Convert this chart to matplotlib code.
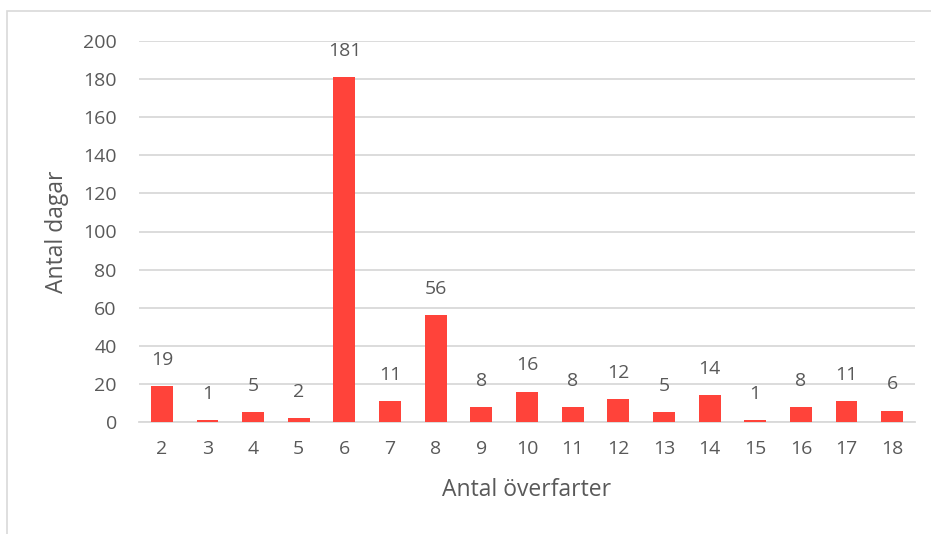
import matplotlib.pyplot as plt
from matplotlib.patches import Rectangle

overfarter = [str(n) for n in range(2, 19)]
dagar = [19, 1, 5, 2, 181, 11, 56, 8, 16, 8, 12, 5, 14, 1, 8, 11, 6]
yticks = list(range(0, 201, 20))

plt.rcParams['font.family'] = ['Open Sans', 'DejaVu Sans']
grey = '#595959'

fig = plt.figure(figsize=(9.31, 5.34), dpi=100)
ax = fig.add_axes([139 / 931, 1 - 422 / 534, (915 - 139) / 931, (422 - 41) / 534])

x = range(len(dagar))
bars = ax.bar(x, dagar, width=0.48, color='#FF433A', zorder=3)
for xi, v in zip(x, dagar):
    ax.text(xi, v + 9, str(v), ha='center', va='bottom', fontsize=14, color=grey)

ax.set_xlim(-0.5, len(dagar) - 0.5)
ax.set_ylim(0, 200)
ax.set_yticks(yticks)
ax.set_xticks(list(x))
ax.set_xticklabels(overfarter)
ax.tick_params(length=0, labelsize=14, colors=grey)
ax.tick_params(axis='x', pad=13)
ax.tick_params(axis='y', pad=16)
ax.grid(axis='y', color='#D9D9D9', linewidth=1.3, zorder=0)
for s in ['top', 'right', 'left']:
    ax.spines[s].set_visible(False)
ax.spines['bottom'].set_color('#D9D9D9')
ax.spines['bottom'].set_linewidth(1.3)

ax.set_xlabel('Antal överfarter', fontsize=16.5, color=grey, labelpad=14)
ax.set_ylabel('Antal dagar', fontsize=16.5, color=grey, labelpad=10)

# chart frame
fig.patches.append(Rectangle((7 / 931, -0.1), 1.1, 1 - 11 / 534 + 0.1,
                             transform=fig.transFigure, fill=False,
                             edgecolor='#D9D9D9', linewidth=1.2))

plt.savefig('out.png', dpi=100)
